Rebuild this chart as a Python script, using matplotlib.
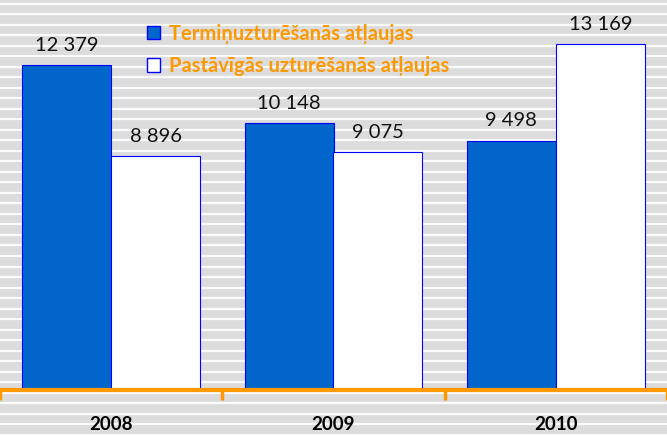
import numpy as np
import matplotlib
matplotlib.use('Agg')
import matplotlib.pyplot as plt
from matplotlib.patches import Patch

years = ['2008', '2009', '2010']
termina = [12379, 10148, 9498]
pastavigas = [8896, 9075, 13169]
series_names = ['Termiņuzturēšanās atļaujas', 'Pastāvīgās uzturēšanās atļaujas']

blue = '#0066CC'
edge = '#0000FF'
orange = '#FF9900'

plt.rcParams['font.family'] = ['Lato', 'DejaVu Sans']

fig = plt.figure(figsize=(6.67, 4.36), dpi=100)
fig.patch.set_facecolor('#DCDCDC')

# striped background
bg = fig.add_axes([0, 0, 1, 1], zorder=0)
bg.set_xlim(0, 1)
bg.set_ylim(0, 436)
bg.hlines(np.arange(1.5, 436, 10.5), 0, 1, color='white', lw=1.6, alpha=0.9)
bg.axis('off')

ax = fig.add_axes([0, 46 / 436, 1, 390 / 436], zorder=1)
ax.patch.set_alpha(0)

x = np.arange(len(years))
w = 0.4
b1 = ax.bar(x - w / 2, termina, w, color=blue, edgecolor=edge, lw=0.8)
b2 = ax.bar(x + w / 2, pastavigas, w, color='white', edgecolor=edge, lw=0.8)

fmt = lambda v: f'{v:,}'.replace(',', ' ')
for bars, vals in ((b1, termina), (b2, pastavigas)):
    for r, v in zip(bars, vals):
        ax.annotate(fmt(v), (r.get_x() + r.get_width() / 2, v), xytext=(0, 8),
                    textcoords='offset points', ha='center', va='bottom',
                    fontsize=14.5, color='#111111')

ax.set_xlim(-0.5, 2.5)
ax.set_ylim(0, 14850)
ax.set_yticks([])
for s in ['top', 'right', 'left']:
    ax.spines[s].set_visible(False)
ax.spines['bottom'].set_color(orange)
ax.spines['bottom'].set_linewidth(3)

ax.set_xticks([-0.5, 0.5, 1.5, 2.5], minor=False)
ax.set_xticklabels([])
ax.tick_params(axis='x', which='major', length=7, width=2.5, color=orange, direction='out')
ax.set_xticks(x, minor=True)
ax.set_xticklabels(years, minor=True, fontweight='bold', fontsize=13.5)
ax.tick_params(axis='x', which='minor', length=0, pad=19)

handles = [Patch(facecolor=blue, edgecolor=edge), Patch(facecolor='white', edgecolor=edge)]
leg = ax.legend(handles, series_names, loc='upper left', bbox_to_anchor=(0.199, 0.975),
                frameon=False, handlelength=0.65, handleheight=0.65, handletextpad=0.45,
                labelspacing=0.6, borderpad=0.2, prop={'weight': 'bold', 'size': 14.5})
for t in leg.get_texts():
    t.set_color(orange)

fig.savefig('out.png', dpi=100, facecolor=fig.get_facecolor())
